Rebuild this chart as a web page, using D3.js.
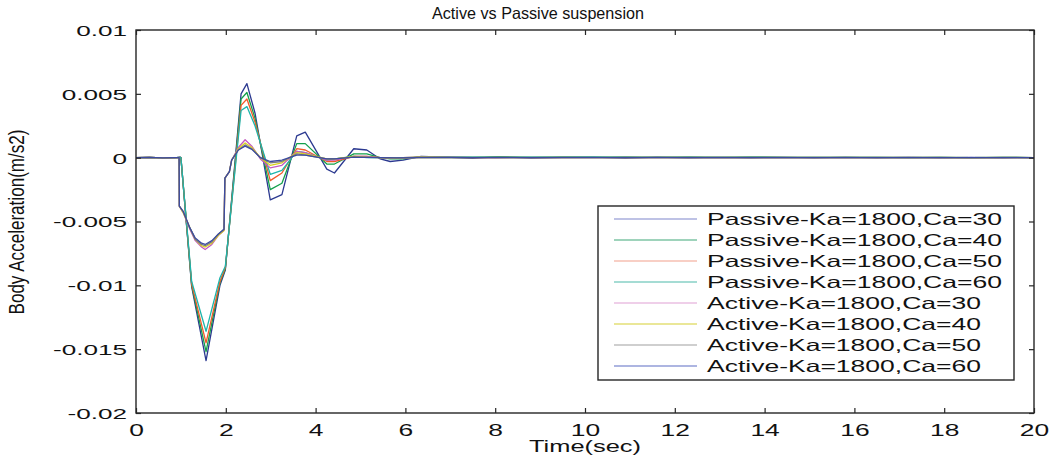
<!DOCTYPE html>
<html><head><meta charset="utf-8">
<script src="https://cdn.jsdelivr.net/npm/d3@7"></script>
<style>body{margin:0;background:#fff} svg{display:block}</style>
</head><body><svg id="c" width="1054" height="459"></svg>
<script>
// ---------- data ----------
const chartTitle = "Active vs Passive suspension";
const xLabel = "Time(sec)";
const yLabel = "Body Acceleration(m/s2)";
const xTicks = [0,2,4,6,8,10,12,14,16,18,20];
const xTickLabels = ["0","2","4","6","8","10","12","14","16","18","20"];
const yTicks = [0.01,0.005,0,-0.005,-0.01,-0.015,-0.02];
const yTickLabels = ["0.01","0.005","0","-0.005","-0.01","-0.015","-0.02"];

const timePassive = [0,0.3,0.6,0.9,0.98,1.0,1.24,1.56,1.87,1.99,2.34,2.47,2.65,2.99,3.25,3.58,3.77,4.25,4.42,4.85,5.14,5.44,5.66,5.95,6.35,6.9,7.5,8.1,8.8,9.5,10.2,10.9,11.6,12.3,13.0,13.7,14.4,15.1,15.8,16.5,17.2,17.9,18.6,19.3,20];
const passiveCa30 = [0,0.00002,-0.00002,0.00001,0.00004,0,-0.0101,-0.0159,-0.0100,-0.0088,0.0050,0.0058,0.0035,-0.0033,-0.0029,0.0017,0.0020,-0.0009,-0.0012,0.0007,0.0006,-0.0001,-0.0003,-0.0002,0.0001,0.00005,-0.00005,0.00008,-0.00004,0.00003,0.00005,-0.00003,0.00004,-0.00002,0.00003,-0.00002,0.00003,-0.00002,0.00002,-0.00002,0.00002,-0.00001,0.00002,-0.00001,0.00001];
const passiveCa40 = [0,0.00002,-0.00002,0.00001,0.00003,0,-0.0100,-0.0152,-0.0098,-0.0087,0.0046,0.0051,0.0031,-0.0025,-0.0020,0.0011,0.0011,-0.0005,-0.0005,0.0003,0.0003,0.0000,-0.0001,-0.0001,0.00008,0.00006,0.00002,0.00006,0.00002,0.00005,0.00003,0.00005,0.00002,0.00004,0.00002,0.00004,0.00002,0.00003,0.00002,0.00003,0.00001,0.00003,0.00001,0.00002,0.00001];
const passiveCa50 = [0,0.00001,-0.00001,0.00001,0.00002,0,-0.0099,-0.0145,-0.0097,-0.0086,0.0041,0.0046,0.0028,-0.0018,-0.0012,0.0007,0.0006,-0.0003,-0.0003,0.0001,0.0001,0.0000,0.0000,0.0000,0.00006,0.00004,0.00003,0.00005,0.00003,0.00004,0.00003,0.00005,0.00003,0.00004,0.00002,0.00004,0.00002,0.00003,0.00002,0.00003,0.00002,0.00002,0.00001,0.00002,0.00001];
const passiveCa60 = [0,0.00001,-0.00001,0.00001,0.00002,0,-0.0097,-0.0136,-0.0094,-0.0085,0.0037,0.0040,0.0025,-0.0013,-0.0010,0.0005,0.0004,-0.0002,-0.0001,0.0001,0.0000,0.0000,0.0000,0.0000,0.00005,0.00004,0.00004,0.00005,0.00004,0.00005,0.00004,0.00005,0.00003,0.00004,0.00003,0.00004,0.00003,0.00003,0.00002,0.00003,0.00002,0.00002,0.00001,0.00002,0.00001];

const timeActive = [0,0.3,0.6,0.9,0.96,0.965,1.05,1.20,1.32,1.46,1.54,1.69,1.83,1.96,1.98,2.08,2.13,2.28,2.43,2.58,2.77,2.99,3.25,3.58,3.77,4.25,4.42,4.85,5.14,5.44,5.8,6.3,7,8,9,10,11,12,13,14,15,16,17,18,19,20];
const activeCa30 = [0,0.00002,-0.00002,0.00001,0,-0.0038,-0.0043,-0.0056,-0.0065,-0.0070,-0.0072,-0.0068,-0.0061,-0.0057,-0.0016,-0.0011,-0.0002,0.0008,0.0014,0.0009,-0.0001,-0.0008,-0.0006,0.0005,0.0004,-0.0002,-0.0002,0.0001,0.0001,0.0000,-0.00005,0.00003,0.00002,-0.00001,0.00001,0,0.00001,0,0.00001,0,0.00001,0,0,0,0,0];
const activeCa40 = [0,0.00002,-0.00002,0.00001,0,-0.0038,-0.0043,-0.0055,-0.0064,-0.0069,-0.0070,-0.0067,-0.0061,-0.0057,-0.0016,-0.0011,-0.0002,0.0007,0.00115,0.0008,0.0000,-0.0006,-0.0004,0.0004,0.0003,-0.0001,-0.0001,0.0001,0.00005,0.0000,-0.00003,0.00002,0.00001,0,0.00001,0,0,0,0,0,0,0,0,0,0,0];
const activeCa50 = [0,0.00002,-0.00002,0.00001,0,-0.0038,-0.0042,-0.0055,-0.0064,-0.0068,-0.0069,-0.0066,-0.0060,-0.0056,-0.0016,-0.0011,-0.0002,0.0006,0.0010,0.0007,0.0000,-0.0004,-0.0003,0.0003,0.0002,-0.0001,-0.0001,0.00005,0.00003,0.0000,-0.00002,0.00001,0,0,0,0,0,0,0,0,0,0,0,0,0,0];
const activeCa60 = [0,0.00002,-0.00002,0.00001,0,-0.0038,-0.0042,-0.0055,-0.0063,-0.0067,-0.0068,-0.0065,-0.0060,-0.0056,-0.0016,-0.0011,-0.0002,0.0006,0.0009,0.00065,0.0000,-0.0003,-0.0002,0.0002,0.0002,-0.0001,-0.0001,0.00005,0.00003,0.0000,-0.00002,0.00001,0,0,0,0,0,0,0,0,0,0,0,0,0,0];

const seriesNames = ["Passive-Ka=1800,Ca=30","Passive-Ka=1800,Ca=40","Passive-Ka=1800,Ca=50","Passive-Ka=1800,Ca=60","Active-Ka=1800,Ca=30","Active-Ka=1800,Ca=40","Active-Ka=1800,Ca=50","Active-Ka=1800,Ca=60"];
const seriesColors = ["#2b3990","#13a04b","#f15a29","#1cb5ac","#c45ac0","#d8d21e","#7d7d7d","#3c4ba0"];
const legendColors = ["#7f86cc","#3fa878","#f2a08c","#4dbaa9","#dfa0d4","#d6d032","#a0a0a0","#5d6cc4"];
const seriesTimes = [timePassive,timePassive,timePassive,timePassive,timeActive,timeActive,timeActive,timeActive];
const seriesValues = [passiveCa30,passiveCa40,passiveCa50,passiveCa60,activeCa30,activeCa40,activeCa50,activeCa60];

// ---------- drawing ----------
const FONT = '"Liberation Sans", Arial, Helvetica, sans-serif';
const svg = d3.select('#c');
svg.append('rect').attr('width',1054).attr('height',459).attr('fill','#fff');
const L=136, R=1034, T=30, B=413;
const x = d3.scaleLinear().domain([0,20]).range([L,R]);
const y = d3.scaleLinear().domain([-0.02,0.01]).range([B,T]);

function stretch(sel,k){ sel.each(function(){ const w=this.getComputedTextLength(); this.setAttribute('textLength',w*k); this.setAttribute('lengthAdjust','spacingAndGlyphs'); }); }
function fixLen(sel,len){ sel.attr('textLength',len).attr('lengthAdjust','spacingAndGlyphs'); }

svg.append('clipPath').attr('id','pc').append('rect').attr('x',L).attr('y',T).attr('width',R-L).attr('height',B-T);
const line = d3.line().x(d=>x(d[0])).y(d=>y(d[1]));
const gLines = svg.append('g').attr('clip-path','url(#pc)');
seriesValues.forEach((vals,i)=>{
  gLines.append('path').datum(seriesTimes[i].map((t,j)=>[t,vals[j]]))
    .attr('d',line).attr('fill','none').attr('stroke',seriesColors[i]).attr('stroke-width',1.3).attr('stroke-linejoin','round');
});

// axes
const tickCol = '#262626';
const gx = svg.append('g').attr('transform',`translate(0,${B})`)
  .call(d3.axisBottom(x).tickValues(xTicks).tickFormat((d,i)=>xTickLabels[i]).tickSizeInner(-5).tickSizeOuter(0).tickPadding(11));
const gxt = svg.append('g').attr('transform',`translate(0,${T})`)
  .call(d3.axisTop(x).tickValues(xTicks).tickFormat('').tickSizeInner(-5).tickSizeOuter(0));
const gy = svg.append('g').attr('transform',`translate(${L},0)`)
  .call(d3.axisLeft(y).tickValues(yTicks).tickFormat((d,i)=>yTickLabels[i]).tickSizeInner(-5).tickSizeOuter(0).tickPadding(9));
const gyr = svg.append('g').attr('transform',`translate(${R},0)`)
  .call(d3.axisRight(y).tickValues(yTicks).tickFormat('').tickSizeInner(-5).tickSizeOuter(0));
[gx,gxt,gy,gyr].forEach(g=>{ g.select('.domain').remove(); g.selectAll('line').attr('stroke',tickCol).attr('stroke-width',1.2); });
gx.selectAll('text').attr('font-family',FONT).attr('font-size',16.5).attr('fill','#111');
gy.selectAll('text').attr('font-family',FONT).attr('font-size',15).attr('fill','#111').attr('dy','0.36em');
stretch(gx.selectAll('text'),1.6);
stretch(gy.selectAll('text'),1.74);

// frame
svg.append('rect').attr('x',L).attr('y',T).attr('width',R-L).attr('height',B-T)
  .attr('fill','none').attr('stroke',tickCol).attr('stroke-width',1.4);

// title & labels
const title = svg.append('text').attr('x',538).attr('y',19).attr('text-anchor','middle')
  .attr('font-family',FONT).attr('font-size',16.5).attr('fill','#111').text(chartTitle);
fixLen(title,212);
const xl = svg.append('text').attr('x',(L+R)/2).attr('y',452).attr('text-anchor','middle')
  .attr('font-family',FONT).attr('font-size',17).attr('fill','#111').text(xLabel);
fixLen(xl,112);
const yl = svg.append('text').attr('transform','translate(24,222) rotate(-90) scale(1,1.45)').attr('text-anchor','middle')
  .attr('font-family',FONT).attr('font-size',15).attr('fill','#111').text(yLabel);
fixLen(yl,185);

// legend
const lg = svg.append('g');
lg.append('rect').attr('x',598).attr('y',206).attr('width',416).attr('height',174)
  .attr('fill','#fff').attr('stroke',tickCol).attr('stroke-width',1.4);
seriesNames.forEach((n,i)=>{
  const yy = 219 + i*21;
  lg.append('line').attr('x1',614).attr('x2',697).attr('y1',yy).attr('y2',yy).attr('stroke',legendColors[i]).attr('stroke-width',1.2);
  const t = lg.append('text').attr('x',707).attr('y',yy).attr('dy','0.36em')
    .attr('font-family',FONT).attr('font-size',16.5).attr('fill','#111').text(n);
  fixLen(t, n.startsWith('Passive') ? 295 : 274);
});
</script></body></html>
